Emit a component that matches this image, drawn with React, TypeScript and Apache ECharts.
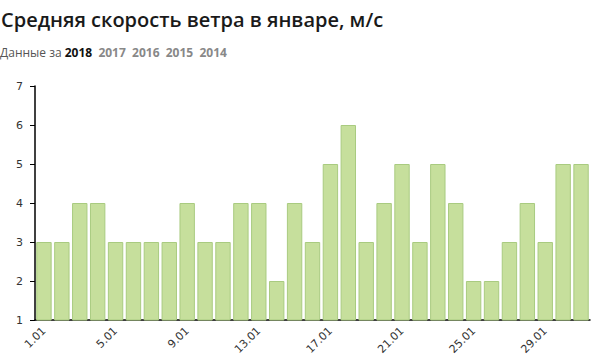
import React, { useEffect, useRef } from "react";
import * as echarts from "echarts";

const days: string[] = [
  "1.01","2.01","3.01","4.01","5.01","6.01","7.01","8.01","9.01","10.01",
  "11.01","12.01","13.01","14.01","15.01","16.01","17.01","18.01","19.01","20.01",
  "21.01","22.01","23.01","24.01","25.01","26.01","27.01","28.01","29.01","30.01","31.01",
];
const windSpeed: number[] = [
  3,3,4,4,3,3,3,3,4,3,3,4,4,2,4,3,5,6,3,4,5,3,5,4,2,2,3,4,3,5,5,
];
const years: string[] = ["2018", "2017", "2016", "2015", "2014"];
const titleText = "Средняя скорость ветра в январе, м/с";

export default function App() {
  const ref = useRef<HTMLDivElement>(null);
  useEffect(() => {
    document.body.style.margin = "0";
    if (!ref.current) return;
    const chart = echarts.init(ref.current, null, { renderer: "svg" });
    const subtitle =
      "{lbl|Данные за }" +
      years.map((y, i) => (i === 0 ? `{cur|${y}}` : `{yr|${y}}`)).join("{sp|  }");
    chart.setOption({
      animation: false,
      title: {
        text: titleText,
        left: 1,
        top: 9,
        padding: 0,
        textStyle: {
          fontFamily: "Open Sans",
          fontSize: 20,
          fontWeight: 600,
          color: "#1a1a1a",
        },
      },
      graphic: [
        {
          type: "text",
          left: 0,
          top: 46,
          style: {
            text: subtitle,
            rich: {
              lbl: { fontFamily: "Open Sans", fontSize: 12, fill: "#555" },
              cur: { fontFamily: "Open Sans", fontSize: 12, fontWeight: "bold", fill: "#111" },
              yr: { fontFamily: "Open Sans", fontSize: 12, fontWeight: "bold", fill: "#888" },
              sp: { fontFamily: "Open Sans", fontSize: 12, fill: "#888" },
            },
          },
        },
      ],
      grid: { left: 35, right: 10, top: 86, bottom: 42, containLabel: false },
      xAxis: {
        type: "category",
        data: days,
        axisLine: { lineStyle: { color: "#000", width: 1.5 } },
        axisTick: { alignWithLabel: true, interval: 3, length: 5, lineStyle: { color: "#000" } },
        axisLabel: {
          interval: 3,
          rotate: 45,
          fontFamily: "DejaVu Sans",
          fontSize: 11,
          color: "#333",
          margin: 9,
        },
      },
      yAxis: {
        type: "value",
        min: 1,
        max: 7,
        interval: 1,
        splitLine: { show: false },
        axisLine: { show: true, lineStyle: { color: "#000", width: 1.5 } },
        axisTick: { show: true, length: 5, lineStyle: { color: "#000" } },
        axisLabel: {
          fontFamily: "DejaVu Sans",
          fontSize: 11,
          color: "#333",
          margin: 12,
        },
      },
      series: [
        {
          type: "bar",
          data: windSpeed,
          barCategoryGap: "14%",
          itemStyle: {
            color: "#c6df9c",
            borderColor: "#a9cb80",
            borderWidth: 1,
          },
        },
      ],
    });
    return () => chart.dispose();
  }, []);
  return <div ref={ref} style={{ width: 600, height: 362 }} />;
}
